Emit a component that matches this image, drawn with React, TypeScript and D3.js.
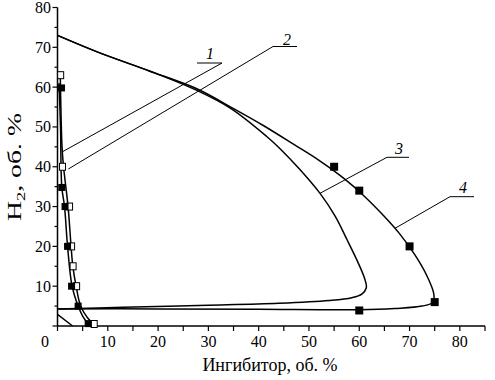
import React from "react";
import * as d3 from "d3";

const W = 495, H = 380;

// curve 1 (open squares) line and points
const curve1Line: [number, number][] = [[0.55, 63.5], [0.9, 45], [1.2, 40], [2.1, 30], [2.7, 20], [3.05, 15], [3.7, 10], [4.6, 5], [6.0, 2], [7.3, 0.4]];
const curve1Pts: [number, number][] = [[0.63, 63], [1.0, 40], [2.4, 30], [2.8, 20], [3.1, 15], [3.8, 10], [7.3, 0.5]];
// curve 2 (filled squares)
const curve2Line: [number, number][] = [[0.3, 61], [0.6, 50], [0.85, 35], [1.4, 30], [2.0, 20], [2.9, 10], [4.1, 5], [5.0, 2.5], [6.1, 0.5]];
const curve2Pts: [number, number][] = [[0.8, 59.8], [0.85, 34.8], [1.5, 30], [2.0, 20], [2.8, 10], [4.1, 5], [6.1, 0.6]];
// curve 3
const curve3Line: [number, number][] = [[0, 73], [8.4, 68.6], [18.4, 64], [27.5, 59.3], [34.5, 54.6], [41.6, 47.6], [44.2, 44.6], [48.2, 39.3], [52.2, 33.3], [55.2, 27.6], [57.6, 21.6], [59.7, 16.1], [61.1, 11.8], [61.4, 9.6], [60.5, 8], [58.5, 7.1], [54, 6.4], [44, 5.7], [30, 5.2], [13, 4.7], [0, 4.3]];
// curve 4
const curve4Line: [number, number][] = [[0, 73], [8.4, 68.6], [18.4, 64], [27.7, 59.6], [35, 54.6], [41, 50.3], [47, 45.6], [52, 41.6], [57, 37], [61, 32.6], [65, 27.5], [68, 23.2], [71, 18], [73.3, 13], [74.8, 8.2], [74.7, 6], [72.5, 5], [67, 4.4], [60, 4.1], [40, 4.2], [20, 4.3], [0, 4.3]];
const curve4Pts: [number, number][] = [[55, 40], [60, 34], [70, 20], [75, 6], [60, 3.9]];
// small line near origin
const cornerLine: [number, number][] = [[0, 2.9], [3, 0]];

const xMajor = [0, 10, 20, 30, 40, 50, 60, 70, 80];
const xMinor = [5, 15, 25, 35, 45, 55, 65, 75, 85];
const yMajor = [0, 10, 20, 30, 40, 50, 60, 70, 80];
const yMinor = [5, 15, 25, 35, 45, 55, 65, 75];
const xTickLabels = ["10", "20", "30", "40", "50", "60", "70", "80"];
const yTickLabels = ["10", "20", "30", "40", "50", "60", "70", "80"];

const SERIF = "'Liberation Serif', 'Times New Roman', 'DejaVu Serif', serif";

export default function App() {
  const x = d3.scaleLinear().domain([0, 85]).range([57.5, 485]);
  const y = d3.scaleLinear().domain([0, 80]).range([326, 7.5]);
  const line = d3.line<[number, number]>().x(d => x(d[0])).y(d => y(d[1])).curve(d3.curveCatmullRom.alpha(0.5));
  const straight = d3.line<[number, number]>().x(d => x(d[0])).y(d => y(d[1]));

  const labels = [
    { t: "1", tx: 210, ty: 59, u: [197, 222], uy: 63, from: [222, 63], to: [62, 152] },
    { t: "2", tx: 287, ty: 45, u: [273, 297], uy: 46.5, from: [273, 46.5], to: [68.3, 169] },
    { t: "3", tx: 399, ty: 154, u: [387, 409], uy: 157.3, from: [387, 157.3], to: [320, 193.3] },
    { t: "4", tx: 463, ty: 193, u: [450, 474], uy: 196.7, from: [450, 196.7], to: [395, 228.3] },
  ];
  const txt = { fontFamily: SERIF } as React.CSSProperties;

  return (
    <svg width={W} height={H} style={{ position: "absolute", left: 0, top: 0, background: "#fff" }}>
      <rect width={W} height={H} fill="#fff" />
      {/* axes */}
      <line x1={x(0)} x2={x(0)} y1={y(0)} y2={y(80)} stroke="#000" strokeWidth={1.5} />
      <line x1={x(0)} x2={x(85)} y1={y(0)} y2={y(0)} stroke="#000" strokeWidth={1.5} />
      {xMajor.map(v => <line key={"xm" + v} x1={x(v)} x2={x(v)} y1={y(0)} y2={y(0) + 5} stroke="#000" strokeWidth={1.2} />)}
      {xMinor.map(v => <line key={"xn" + v} x1={x(v)} x2={x(v)} y1={y(0)} y2={y(0) + 5} stroke="#000" strokeWidth={1.2} />)}
      {yMajor.map(v => <line key={"ym" + v} x1={x(0) - 5} x2={x(0)} y1={y(v)} y2={y(v)} stroke="#000" strokeWidth={1.2} />)}
      {yMinor.map(v => <line key={"yn" + v} x1={x(0) - 3} x2={x(0)} y1={y(v)} y2={y(v)} stroke="#000" strokeWidth={1.2} />)}
      {xTickLabels.map((t, i) => (
        <text key={"xl" + t} x={x(xMajor[i + 1])} y={347} textAnchor="middle" style={txt} fontSize={16}>{t}</text>
      ))}
      <text x={45} y={347} textAnchor="middle" style={txt} fontSize={16}>0</text>
      {yTickLabels.map((t, i) => (
        <text key={"yl" + t} x={51} y={y(yMajor[i + 1]) + 5.5} textAnchor="end" style={txt} fontSize={16}>{t}</text>
      ))}
      <text x={270} y={371} textAnchor="middle" style={txt} fontSize={18}>Ингибитор, об. %</text>
      <text transform={`translate(21,167) rotate(-90)`} x={-54} style={txt} fontSize={18} textLength={108} lengthAdjust="spacingAndGlyphs">
        H<tspan fontSize={12} dy={4}>2</tspan><tspan dy={-4}>, об. %</tspan>
      </text>

      {/* curves */}
      <g fill="none" stroke="#000" strokeWidth={1.5}>
        <path d={line(curve3Line) || ""} />
        <path d={line(curve4Line) || ""} />
        <path d={line(curve1Line) || ""} />
        <path d={line(curve2Line) || ""} />
        <path d={straight(cornerLine) || ""} />
      </g>

      {/* markers */}
      {curve1Pts.map((p, i) => (
        <rect key={"o" + i} x={x(p[0]) - 3} y={y(p[1]) - 3.5} width={6} height={7} fill="#fff" stroke="#000" strokeWidth={1} />
      ))}
      {curve2Pts.map((p, i) => (
        <rect key={"f" + i} x={x(p[0]) - 3.5} y={y(p[1]) - 3.5} width={7} height={7} fill="#000" />
      ))}
      {curve4Pts.map((p, i) => (
        <rect key={"g" + i} x={x(p[0]) - 4} y={y(p[1]) - 4} width={8} height={8} fill="#000" />
      ))}

      {/* labels */}
      {labels.map(l => (
        <g key={l.t}>
          <text x={l.tx} y={l.ty} textAnchor="middle" style={txt} fontStyle="italic" fontSize={16}>{l.t}</text>
          <line x1={l.u[0]} x2={l.u[1]} y1={l.uy} y2={l.uy} stroke="#000" strokeWidth={1} />
          <line x1={l.from[0]} y1={l.from[1]} x2={l.to[0]} y2={l.to[1]} stroke="#000" strokeWidth={1} />
        </g>
      ))}
    </svg>
  );
}
